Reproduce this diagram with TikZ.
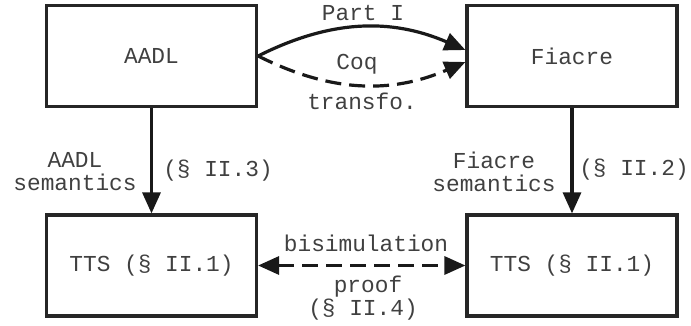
\documentclass[tikz,border=0pt]{standalone}
\usepackage{fontspec}
\setmainfont{Liberation Mono}
\usetikzlibrary{arrows.meta}
\begin{document}
\begin{tikzpicture}[x=0.5pt,y=-0.5pt,
  font=\fontsize{11.4pt}{11.5pt}\selectfont,
  box/.style={draw=black!85, line width=1.6pt, minimum width=105pt, minimum height=50.5pt, inner sep=0pt, text=black!75},
  lbl/.style={text=black!75, inner sep=0pt, align=center},
  conn/.style={line width=1.6pt, draw=black!90, -{Triangle[length=10.5pt,width=9pt]}},
  bconn/.style={line width=1.6pt, draw=black!90, {Triangle[length=10.5pt,width=9pt]}-{Triangle[length=10.5pt,width=9pt]}},
  dsh/.style={dash pattern=on 8pt off 4pt}]
\useasboundingbox (0,0) rectangle (691,326);
\node[box] (aadl) at (151.5,56) {AADL};
\node[box] (fiacre) at (572,56) {Fiacre};
\node[box] (tts1) at (151.5,265.5) {TTS (§ II.1)};
\node[box] (tts2) at (572,265.5) {TTS (§ II.1)};
\draw[conn] (aadl.east) to[bend left=25] ([yshift=3pt]fiacre.west);
\draw[conn,dsh] (aadl.east) to[bend right=25] ([yshift=-3pt]fiacre.west);
\draw[conn] (aadl) -- (tts1);
\draw[conn] (fiacre) -- (tts2);
\draw[bconn,dsh] (tts1) -- (tts2);
\node[lbl] (part) at (363,13) {Part I};
\node[lbl] (coq) at (357,64) {Coq};
\node[lbl] (transfo) at (362,101) {transfo.};
\node[lbl] (asem) at (75,172) {AADL\\semantics};
\node[lbl] (a3) at (218,171) {(§ II.3)};
\node[lbl] (fsem) at (494,172) {Fiacre\\semantics};
\node[lbl] (f2) at (634,170) {(§ II.2)};
\node[lbl] (bisim) at (366,243) {bisimulation};
\node[lbl] (proof) at (368,287) {proof};
\node[lbl] (s4) at (363,310) {(§ II.4)};
\end{tikzpicture}
\end{document}
